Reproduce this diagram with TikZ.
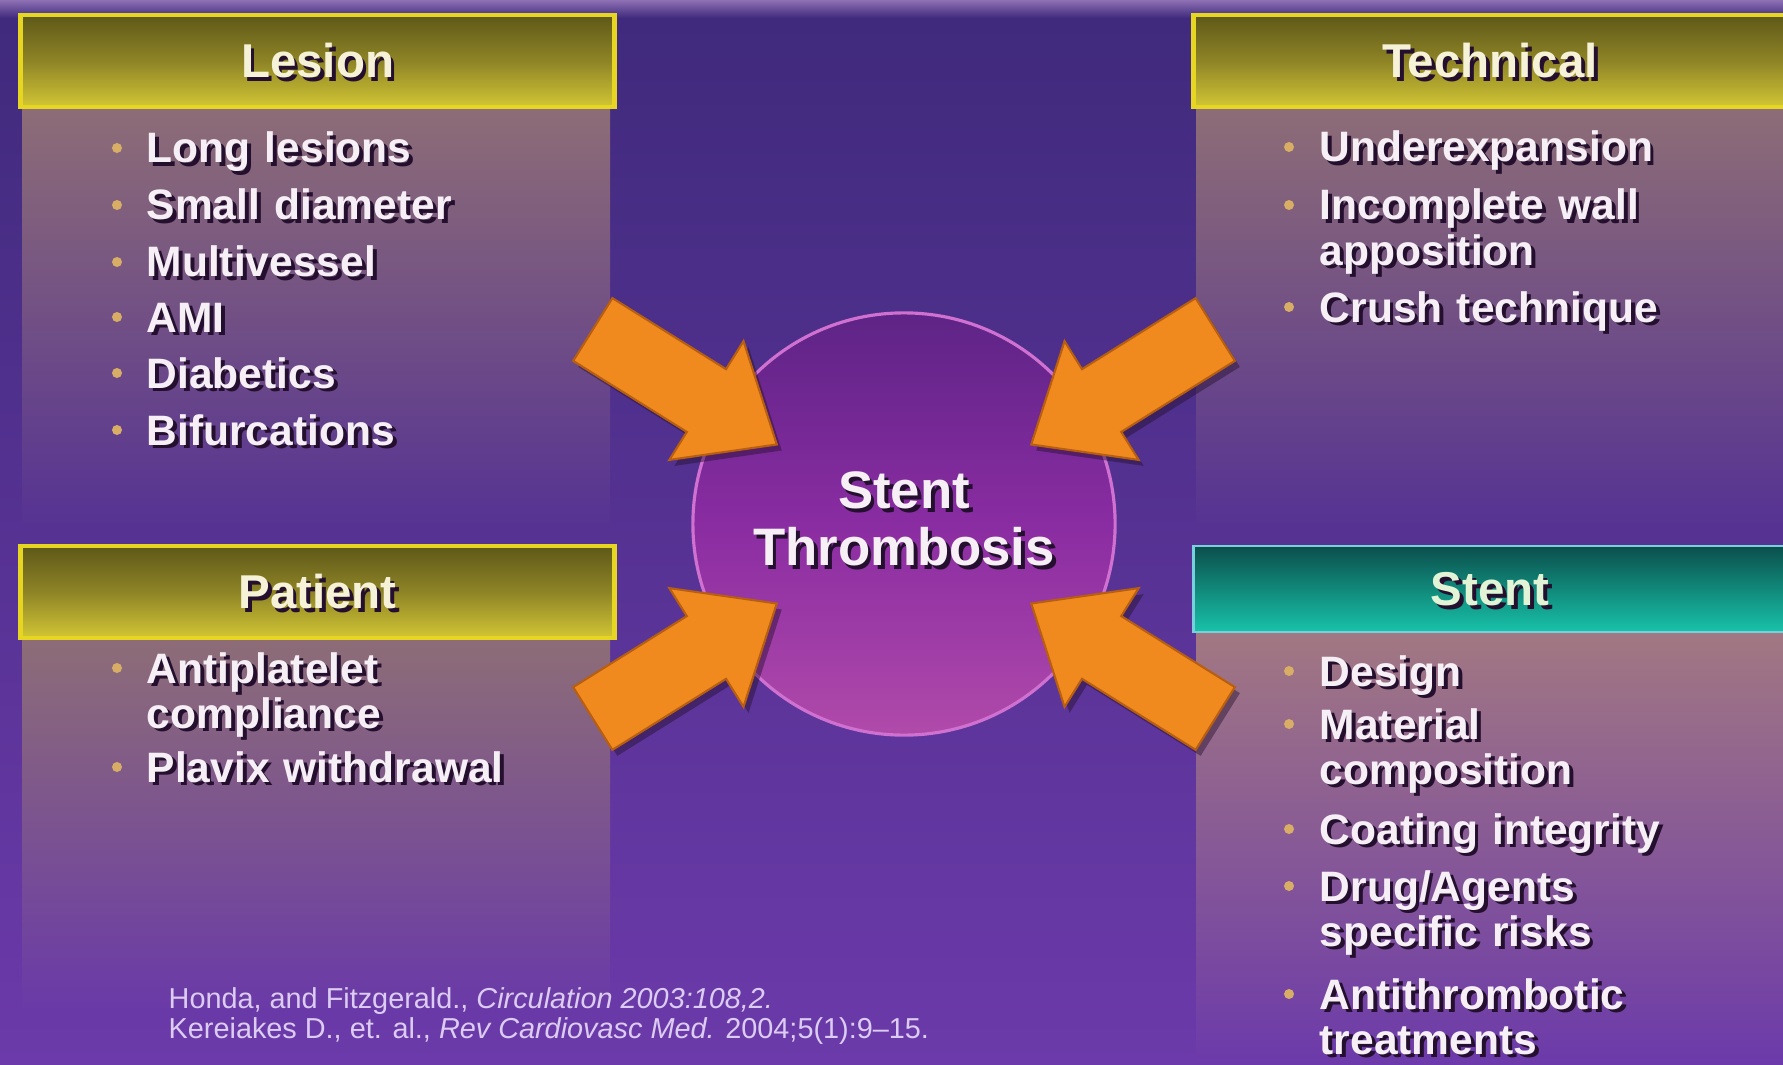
\documentclass[tikz,border=0pt]{standalone}
\usepackage{fontspec}
\setmainfont{Liberation Sans}
\usepackage{tikz}
\usetikzlibrary{positioning}

\definecolor{bgtop}{HTML}{3F2A7C}
\definecolor{bgbot}{HTML}{6C3AAA}
\definecolor{topglow}{HTML}{8E70B4}
\definecolor{pnltop}{HTML}{8E6E76}
\definecolor{stpnltop}{HTML}{A27882}
\definecolor{hdrline}{HTML}{E6D622}
\definecolor{hdrtop}{HTML}{5E5818}
\definecolor{hdrmid}{HTML}{8E8426}
\definecolor{hdrbot}{HTML}{D2C634}
\definecolor{tealline}{HTML}{78D0DC}
\definecolor{tealtop}{HTML}{0B4F4C}
\definecolor{tealmid}{HTML}{11897A}
\definecolor{tealbot}{HTML}{18C2AA}
\definecolor{hubtop}{HTML}{5E2486}
\definecolor{hubmid}{HTML}{8A2CA2}
\definecolor{hubbot}{HTML}{B04AAA}
\definecolor{hubline}{HTML}{D070D0}
\definecolor{arrowc}{HTML}{F08A1E}
\definecolor{arrowedge}{HTML}{B85E10}
\definecolor{txtc}{HTML}{F6F0F6}
\definecolor{hdrtxt}{HTML}{F6F2D8}
\definecolor{tealtxt}{HTML}{E2F4D6}
\definecolor{shadowc}{HTML}{24102E}
\definecolor{dotc}{HTML}{D8AE66}
\definecolor{citec}{HTML}{DCCCF2}

\begin{document}
\begin{tikzpicture}[
x=0.01cm,y=-0.01cm,
font=\bfseries,
hdr/.style={rectangle, draw=hdrline, line width=1.4pt, top color=hdrtop, bottom color=hdrbot, middle color=hdrmid, minimum width=5.93cm, minimum height=0.92cm, inner sep=0pt},
tealhdr/.style={rectangle, draw=tealline, line width=0.8pt, top color=tealtop, bottom color=tealbot, middle color=tealmid, minimum width=5.93cm, minimum height=0.86cm, inner sep=0pt},
ttl/.style={inner sep=0pt, text=hdrtxt, font=\bfseries\fontsize{13.5}{15}\selectfont},
item/.style={anchor=base west, inner sep=0pt, text width=6cm, align=left, text=txtc, font=\bfseries\fontsize{12.1}{12.8}\selectfont},
shadowtxt/.style={text=shadowc, xshift=1.1pt, yshift=-1.1pt},
dot/.style={circle, fill=dotc, minimum size=0.1cm, inner sep=0pt},
hub/.style={circle, draw=hubline, line width=0.9pt, top color=hubtop, bottom color=hubbot, middle color=hubmid, minimum size=4.22cm, inner sep=0pt},
hubtxt/.style={inner sep=0pt, align=center, text=txtc, font=\bfseries\fontsize{15}{16.2}\selectfont},
bigarrow/.style={fill=arrowc, draw=arrowedge, line width=0.6pt, line join=miter},
arrshadow/.style={fill=shadowc, opacity=0.45},
cite/.style={anchor=base west, inner sep=0pt, text=citec, font=\mdseries\fontsize{8.2}{9}\selectfont}
]
\useasboundingbox (0,0) rectangle (1783,1064);
% background and panels
\shade[top color=bgtop, bottom color=bgbot] (0,0) rectangle (1783,1064);
\shade[top color=topglow, bottom color=bgtop] (0,0) rectangle (1783,18);
\shade[top color=pnltop, bottom color=bgbot!50!bgtop] (22,100) rectangle (610,530);
\shade[top color=pnltop, bottom color=bgbot!95!bgtop] (22,630) rectangle (610,1010);
\shade[top color=pnltop, bottom color=bgbot!50!bgtop] (1196,100) rectangle (1783,530);
\shade[top color=stpnltop, bottom color=bgbot] (1196,630) rectangle (1783,1064);

% headers
\foreach \nm/\x/\y/\lbl in {lesion/317.5/61/Lesion, technical/1490/61/Technical, patient/317.5/592/Patient} {
  \node[hdr] (\nm hdr) at (\x,\y) {};
  \node[ttl, shadowtxt] (\nm ttlsh) at (\x,\y) {\lbl};
  \node[ttl] (\nm ttl) at (\x,\y) {\lbl};
}
\node[tealhdr] (stenthdr) at (1490,589) {};
\node[ttl, shadowtxt] (stentttlsh) at (stenthdr) {Stent};
\node[ttl, text=tealtxt] (stentttl) at (stenthdr) {Stent};

% bullet lists
\foreach \y/\lbl [count=\i] in {163/Long lesions, 220/Small diameter, 277/Multivessel, 332/AMI, 388/Diabetics, 445/Bifurcations} {
  \node[dot] (lesdot\i) at (117,\y-15) {};
  \node[item, shadowtxt] (lessh\i) at (146,\y) {\lbl};
  \node[item] (les\i) at (146,\y) {\lbl};
}
\foreach \y/\lbl [count=\i] in {162/Underexpansion, 220/Incomplete wall\\apposition, 322/Crush technique} {
  \node[dot] (techdot\i) at (1289,\y-15) {};
  \node[item, shadowtxt] (techsh\i) at (1319,\y) {\lbl};
  \node[item] (tech\i) at (1319,\y) {\lbl};
}
\foreach \y/\lbl [count=\i] in {683/Antiplatelet\\compliance, 782/Plavix withdrawal} {
  \node[dot] (patdot\i) at (117,\y-15) {};
  \node[item, shadowtxt] (patsh\i) at (146,\y) {\lbl};
  \node[item] (pat\i) at (146,\y) {\lbl};
}
\foreach \y/\lbl [count=\i] in {686/Design, 739/Material\\composition, 844/Coating integrity, 901/{Drug/Agents\\specific risks}, 1009/Antithrombotic\\treatments} {
  \node[dot] (stdot\i) at (1289,\y-15) {};
  \node[item, shadowtxt] (stsh\i) at (1319,\y) {\lbl};
  \node[item] (st\i) at (1319,\y) {\lbl};
}

% centre and arrows
\node[hub] (hub) at (904,524) {};
\foreach \a in {148,32,212,328} {
  \fill[arrshadow, shift={(hub.center)}, shift={(5,6)}, rotate=\a] (150,0) -- (233,70) -- (233,37) -- (367,37) -- (367,-37) -- (233,-37) -- (233,-70) -- cycle;
  \draw[bigarrow, shift={(hub.center)}, rotate=\a] (150,0) -- (233,70) -- (233,37) -- (367,37) -- (367,-37) -- (233,-37) -- (233,-70) -- cycle;
}
\node[hubtxt, shadowtxt] (hubtxtsh) at (904,519) {Stent\\Thrombosis};
\node[hubtxt] (hubtxt) at (904,519) {Stent\\Thrombosis};

% references
\node[cite] (ref1) at (168,1008) {Honda, and Fitzgerald., \textit{Circulation 2003:108,2.}};
\node[cite] (ref2) at (168,1038) {Kereiakes D., et. al., \textit{Rev Cardiovasc Med.} 2004;5(1):9--15.};
\end{tikzpicture}
\end{document}
